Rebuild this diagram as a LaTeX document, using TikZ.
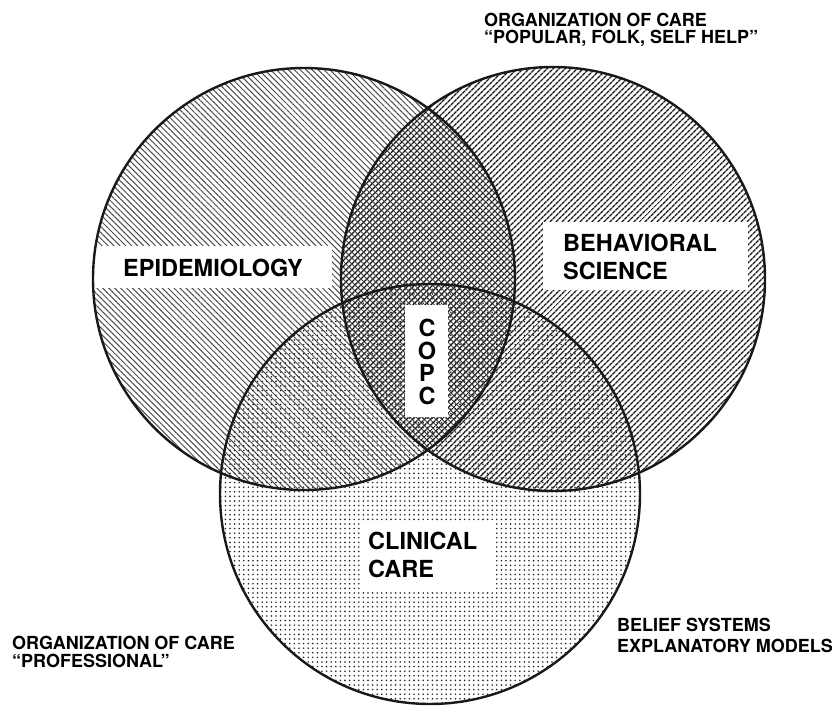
\documentclass[tikz,border=0pt]{standalone}
\usepackage{fontspec}
\setmainfont{TeX Gyre Heros}
\usetikzlibrary{patterns.meta}
\begin{document}
\begin{tikzpicture}[x=1pt,y=-1pt,
  outline/.style={draw=black!90, line width=2.4pt},
  epi/.style={pattern={Lines[angle=-45,distance=4.2pt,line width=1.0pt]}, pattern color=black!70},
  beh/.style={pattern={Lines[angle=45,distance=4pt,line width=1.5pt]}, pattern color=black!90},
  cli/.style={pattern={Dots[distance=4.6pt,radius=0.9pt]}, pattern color=black!85},
  whitebox/.style={fill=white, draw=none},
  biglabel/.style={font=\bfseries\fontsize{23.5}{28}\selectfont, inner sep=0pt, anchor=base west},
  letter/.style={font=\bfseries\fontsize{23.5}{28}\selectfont, inner sep=0pt, anchor=base},
  smalllabel/.style={font=\bfseries\fontsize{18}{20}\selectfont, inner sep=0pt, anchor=base west},
]
\useasboundingbox (0,0) rectangle (839,708);
\coordinate (cE) at (304,279);
\coordinate (cB) at (553,279);
\coordinate (cC) at (430,494);

% pattern fills
\path[epi] (cE) circle[radius=211pt];
\path[beh] (cB) circle[radius=212pt];
\path[cli] (cC) circle[radius=210pt];

% white label boxes
\begin{scope}
  \clip (cE) circle[radius=211pt];
  \fill[whitebox] (80,246) rectangle (332,288);
\end{scope}
\fill[whitebox] (543,222) rectangle (748,290);
\fill[whitebox] (405,305) rectangle (448,417);
\fill[whitebox] (360,522) rectangle (496,592);

% outlines
\draw[outline] (cE) circle[radius=211pt];
\draw[outline] (cB) circle[radius=212pt];
\draw[outline] (cC) circle[radius=210pt];

% main labels
\node[biglabel] (epid) at (123,277) {EPIDEMIOLOGY};
\node[biglabel] (beh1) at (563,252) {BEHAVIORAL};
\node[biglabel] (beh2) at (563,280) {SCIENCE};
\node[biglabel] (cli1) at (368,550) {CLINICAL};
\node[biglabel] (cli2) at (368,578) {CARE};
\node[letter] (copc1) at (427,337) {C};
\node[letter] (copc2) at (427,359.5) {O};
\node[letter] (copc3) at (427,382) {P};
\node[letter] (copc4) at (427,405) {C};

% outside labels
\node[smalllabel] (org1) at (484,27) {ORGANIZATION OF CARE};
\node[smalllabel] (org2) at (484,43.5) {“POPULAR, FOLK, SELF HELP”};
\node[smalllabel] (pro1) at (12,650) {ORGANIZATION OF CARE};
\node[smalllabel] (pro2) at (12,667) {“PROFESSIONAL”};
\node[smalllabel] (bel1) at (617,632) {BELIEF SYSTEMS};
\node[smalllabel] (bel2) at (617,652) {EXPLANATORY MODELS};
\end{tikzpicture}
\end{document}
